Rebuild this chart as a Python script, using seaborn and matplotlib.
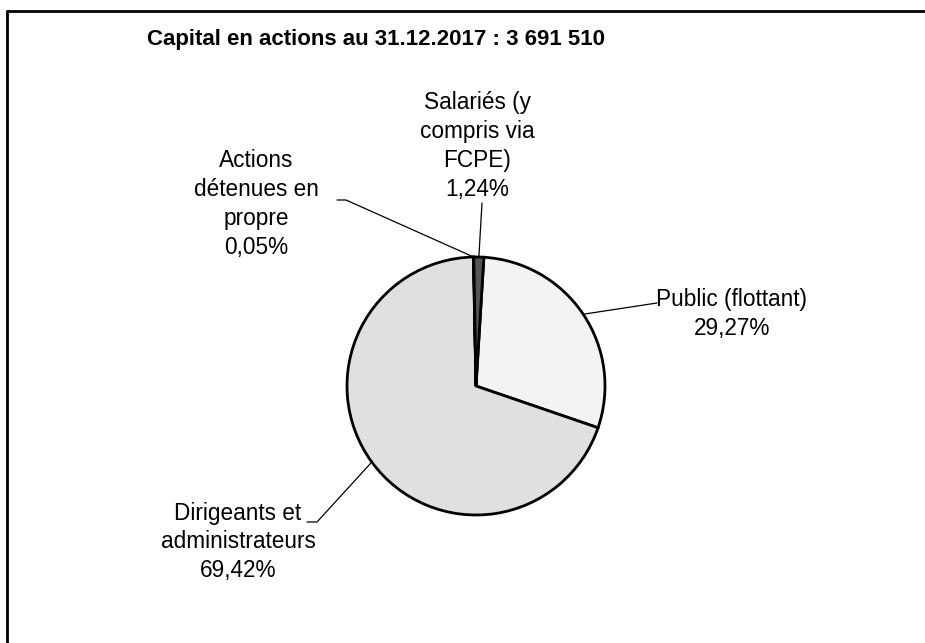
import numpy as np
import matplotlib
matplotlib.use("Agg")
import matplotlib.pyplot as plt
import seaborn as sns

# données du graphique
titre = "Capital en actions au 31.12.2017 : 3 691 510"
categories = ["Public (flottant)", "Dirigeants et\nadministrateurs",
              "Actions\ndétenues en\npropre", "Salariés (y\ncompris via\nFCPE)"]
parts = [29.27, 69.42, 0.05, 1.24]
couleurs = ["#f3f3f3", "#e0e0e0", "#9a9a9a", "#555555"]

W, H = 925, 643

# positions des étiquettes (pixels, origine en haut à gauche)
pos_etiq = [(732, 314), (238, 542), (256, 204), (477, 146)]
# point de départ des traits de rappel, côté étiquette
coude = [[(657, 303)], [(307, 522), (317, 522)],
         [(337, 200), (346, 200)], [(482, 203)]]

sns.set_theme(style="white")
plt.rcParams['font.family'] = ['Liberation Sans', 'DejaVu Sans']

fig = plt.figure(figsize=(W / 100, H / 100), dpi=100)
ax = fig.add_axes([0, 0, 1, 1])

cx, cy, r = 476, H - 386, 129
wedges, _ = ax.pie(parts, colors=couleurs, startangle=86.5, counterclock=False,
                   center=(cx, cy), radius=r,
                   wedgeprops=dict(edgecolor="black", linewidth=2))

for w, lab, v, (px, py), pts in zip(wedges, categories, parts, pos_etiq, coude):
    txt = lab + "\n" + f"{v:.2f}".replace(".", ",") + "%"
    ax.text(px, H - py, txt, ha="center", va="center", fontsize=16.3,
            color="black", linespacing=1.32)
    mid = np.deg2rad((w.theta1 + w.theta2) / 2)
    xs = [p[0] for p in pts] + [cx + r * np.cos(mid)]
    ys = [H - p[1] for p in pts] + [cy + r * np.sin(mid)]
    ax.plot(xs, ys, color="black", linewidth=0.9)

ax.set_xlim(0, W)
ax.set_ylim(0, H)
ax.set_aspect("equal")
ax.axis("off")

fig.text(376 / W, 1 - 40 / H, titre, ha="center", va="center",
         fontsize=16, fontweight="bold", color="black")

# cadre (seuls les bords haut et gauche sont visibles)
fig.add_artist(plt.Line2D([7 / W, 1], [1 - 11 / H, 1 - 11 / H],
                          color="black", linewidth=2, transform=fig.transFigure))
fig.add_artist(plt.Line2D([7 / W, 7 / W], [0, 1 - 11 / H],
                          color="black", linewidth=2, transform=fig.transFigure))

fig.savefig("out.png", dpi=100, facecolor="white")
